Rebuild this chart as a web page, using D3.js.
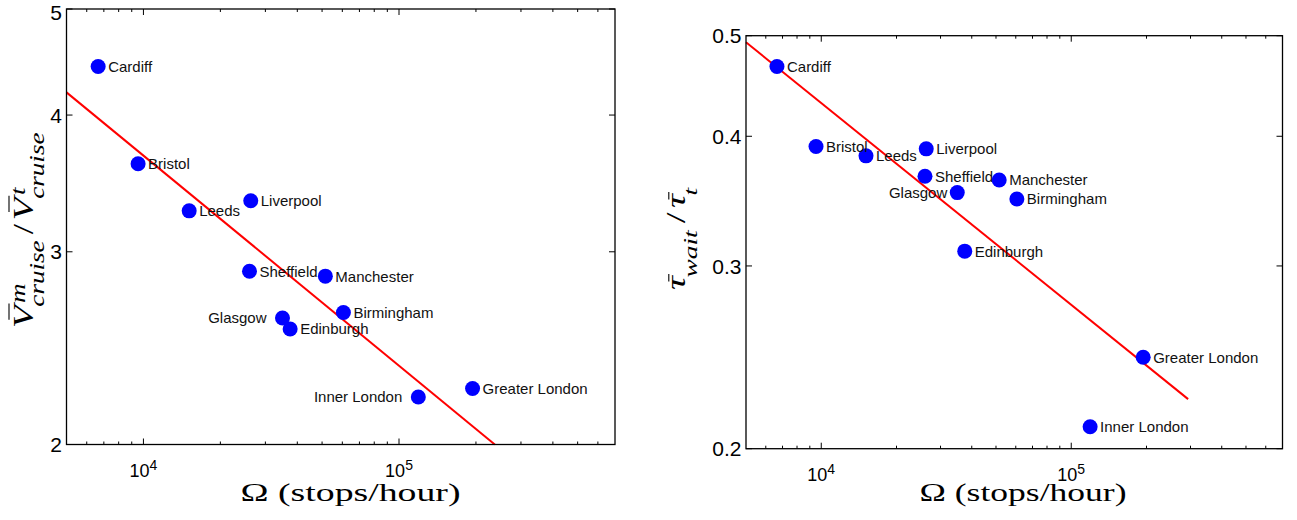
<!DOCTYPE html>
<html>
<head>
<meta charset="utf-8">
<script src="https://cdn.jsdelivr.net/npm/d3@7"></script>
<style>
  body { margin: 0; background: #fff; }
  svg { display: block; }
  .tick-label { font-family: "Liberation Sans", Arial, sans-serif; fill: #000; }
  .city { font-family: "Liberation Sans", Arial, sans-serif; font-size: 15px; fill: #111; }
  .math { font-family: "Liberation Serif", "Times New Roman", serif; fill: #000; }
</style>
</head>
<body>
<div id="chart"></div>
<script>
// city data
var cities = ["Cardiff", "Bristol", "Leeds", "Liverpool", "Sheffield", "Glasgow",
              "Edinburgh", "Manchester", "Birmingham", "Inner London", "Greater London"];
var omega = [6650, 9530, 15100, 26300, 26000, 35000, 37500, 51500, 60600, 119000, 194000];
var cruiseRatio = [4.43, 3.61, 3.27, 3.34, 2.88, 2.61, 2.55, 2.85, 2.64, 2.21, 2.25];
var waitRatio = [0.467, 0.391, 0.383, 0.389, 0.366, 0.353, 0.310, 0.363, 0.348, 0.210, 0.245];

// labels drawn on the left side of the point
var leftLabelsA = ["Glasgow", "Inner London"];
var leftLabelsB = ["Glasgow"];

// power-law fits: log10(y) = a + b*log10(x)
var fitA = { a: 1.333, b: -0.192, from: 5000, to: 237000 };
var fitB = { a: 0.4117, b: -0.1944, from: 5000, to: 293500 };

var xDomain = [5000, 7e5];
var xMajor = [1e4, 1e5];
var yTicksA = [2, 3, 4, 5];
var yTicksB = [0.2, 0.3, 0.4, 0.5];

var W = 1297, H = 520;
var svg = d3.select("#chart").append("svg")
    .attr("width", W)
    .attr("height", H);
svg.append("rect").attr("width", W).attr("height", H).attr("fill", "#fff");

var panels = [
    {
        box: { left: 66.5, right: 615, top: 9, bottom: 444.5 },
        y: cruiseRatio, yDomain: [2, 5], yTicks: yTicksA, yFmt: d3.format("d"),
        fit: fitA, leftLabels: leftLabelsA, leftGap: 16,
        xTitle: { cx: 350.5, len: 220 },
        yTitle: { bx: 33, cy: 229, len: 198, parts: [
            { main: "V", bar: true },
            { sup: "m", sub: "cruise" },
            { main: "/", upright: true, pad: 3 },
            { main: "V", bar: true },
            { sup: "t", sub: "cruise" }
        ], fs: 30, subFs: 22, subDrop: 11, supRise: 8 }
    },
    {
        box: { left: 746, right: 1282.5, top: 35.7, bottom: 448.7 },
        y: waitRatio, yDomain: [0.2, 0.5], yTicks: yTicksB, yFmt: d3.format(".1f"),
        fit: fitB, leftLabels: leftLabelsB, leftGap: 10,
        xTitle: { cx: 1023, len: 207 },
        yTitle: { bx: 685, cy: 237.5, len: 105, parts: [
            { main: "\u03c4", bar: true },
            { sub: "wait" },
            { main: "/", upright: true, pad: 3 },
            { main: "\u03c4", bar: true },
            { sub: "t" }
        ], fs: 27, subFs: 19, subDrop: 12, supRise: 8 }
    }
];

panels.forEach(drawPanel);

function drawPanel(p) {
    var b = p.box;
    var x = d3.scaleLog().domain(xDomain).range([b.left, b.right]);
    var y = d3.scaleLog().domain(p.yDomain).range([b.bottom, b.top]);
    var g = svg.append("g");

    // minor + major ticks on x (bottom and top, pointing inward)
    var xTicks = x.ticks().filter(function (d) { return d > xDomain[0] && d < xDomain[1]; });
    xTicks.forEach(function (d) {
        var major = xMajor.indexOf(d) >= 0;
        var len = major ? 6 : 3;
        g.append("line").attr("x1", x(d)).attr("x2", x(d))
            .attr("y1", b.bottom).attr("y2", b.bottom - len)
            .attr("stroke", "#000").attr("stroke-width", 1);
        g.append("line").attr("x1", x(d)).attr("x2", x(d))
            .attr("y1", b.top).attr("y2", b.top + len)
            .attr("stroke", "#000").attr("stroke-width", 1);
    });

    // y ticks, left and right
    p.yTicks.forEach(function (d) {
        g.append("line").attr("x1", b.left).attr("x2", b.left + 6)
            .attr("y1", y(d)).attr("y2", y(d)).attr("stroke", "#000");
        g.append("line").attr("x1", b.right).attr("x2", b.right - 6)
            .attr("y1", y(d)).attr("y2", y(d)).attr("stroke", "#000");
        g.append("text").attr("class", "tick-label")
            .attr("x", b.left - 4.5).attr("y", Math.max(y(d), 12.5))
            .attr("dy", "0.36em")
            .attr("text-anchor", "end")
            .style("font-size", "21px")
            .text(p.yFmt(d));
    });

    // x major tick labels 10^n
    xMajor.forEach(function (d) {
        var t = g.append("text").attr("class", "tick-label")
            .attr("y", b.bottom + 32)
            .attr("text-anchor", "middle")
            .attr("x", x(d));
        t.append("tspan").style("font-size", "18px").text("10");
        t.append("tspan").style("font-size", "14px").attr("dy", -6.7)
            .text(Math.round(Math.log10(d)));
    });

    // fit line
    var fitPts = [p.fit.from, p.fit.to].map(function (v) {
        return [v, Math.pow(10, p.fit.a + p.fit.b * Math.log10(v))];
    });
    g.append("path")
        .datum(fitPts)
        .attr("fill", "none")
        .attr("stroke", "#ff0000")
        .attr("stroke-width", 2)
        .attr("d", d3.line()
            .x(function (d) { return x(d[0]); })
            .y(function (d) { return y(d[1]); }));

    // points
    var pts = cities.map(function (c, i) { return { name: c, x: omega[i], y: p.y[i] }; });
    g.selectAll("circle.pt").data(pts).enter().append("circle")
        .attr("class", "pt")
        .attr("cx", function (d) { return x(d.x); })
        .attr("cy", function (d) { return y(d.y); })
        .attr("r", 7.5)
        .attr("fill", "#0000ff");

    g.selectAll("text.city").data(pts).enter().append("text")
        .attr("class", "city")
        .attr("x", function (d) {
            return p.leftLabels.indexOf(d.name) >= 0 ? x(d.x) - p.leftGap : x(d.x) + 10;
        })
        .attr("y", function (d) { return y(d.y); })
        .attr("dy", "0.36em")
        .attr("text-anchor", function (d) {
            return p.leftLabels.indexOf(d.name) >= 0 ? "end" : "start";
        })
        .text(function (d) { return d.name; });

    // frame
    g.append("rect")
        .attr("x", b.left).attr("y", b.top)
        .attr("width", b.right - b.left).attr("height", b.bottom - b.top)
        .attr("fill", "none").attr("stroke", "#000").attr("stroke-width", 1.3);

    // x title
    g.append("text").attr("class", "math")
        .attr("x", p.xTitle.cx).attr("y", 501)
        .attr("text-anchor", "middle")
        .attr("textLength", p.xTitle.len)
        .attr("lengthAdjust", "spacingAndGlyphs")
        .style("font-size", "25px")
        .text("\u03a9 (stops/hour)");

    mathLabel(g, p.yTitle);
}

// compose a rotated math label from main glyphs with sub/superscripts
function mathLabel(parent, o) {
    var g = parent.append("g");
    var cx = 0;
    o.parts.forEach(function (part) {
        if (part.main) {
            cx += part.pad || 0;
            var t = g.append("text").attr("class", "math")
                .attr("x", cx).attr("y", 0)
                .style("font-size", o.fs + "px")
                .style("font-style", part.upright ? "normal" : "italic")
                .text(part.main);
            var w = t.node().getComputedTextLength();
            if (part.bar) {
                var top = part.main === "V" ? -0.8 * o.fs : -0.6 * o.fs;
                g.append("line")
                    .attr("x1", cx + 0.22 * o.fs).attr("x2", cx + w + 0.05 * o.fs)
                    .attr("y1", top).attr("y2", top)
                    .attr("stroke", "#000").attr("stroke-width", 1.1);
            }
            cx += w + (part.pad || 0);
        } else {
            var wmax = 0;
            if (part.sup) {
                var s = g.append("text").attr("class", "math")
                    .attr("x", cx + 2).attr("y", -o.supRise)
                    .style("font-size", o.subFs + "px").style("font-style", "italic")
                    .text(part.sup);
                wmax = Math.max(wmax, s.node().getComputedTextLength() + 2);
            }
            if (part.sub) {
                var u = g.append("text").attr("class", "math")
                    .attr("x", cx - 1).attr("y", o.subDrop)
                    .style("font-size", o.subFs + "px").style("font-style", "italic")
                    .text(part.sub);
                wmax = Math.max(wmax, u.node().getComputedTextLength() - 1);
            }
            cx += wmax + 2;
        }
    });
    // stretch along the text direction to the measured length of the reference label
    var k = o.len / cx;
    g.attr("transform", "translate(" + o.bx + "," + (o.cy + o.len / 2) + ") rotate(-90) scale(" + k + ",1)");
    return cx;
}
</script>
</body>
</html>
